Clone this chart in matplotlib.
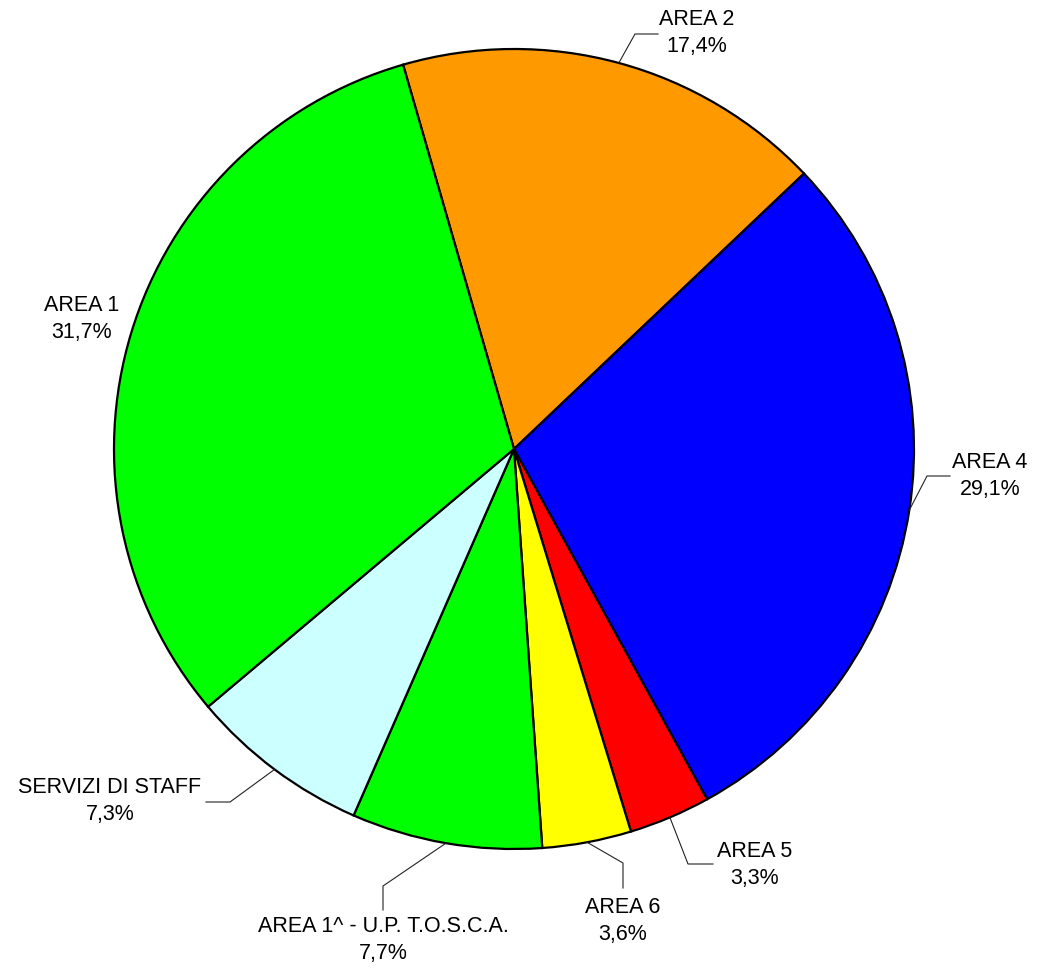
import matplotlib.pyplot as plt
import numpy as np

plt.rcParams['font.family'] = ['Liberation Sans', 'DejaVu Sans']

labels = ['AREA 2', 'AREA 4', 'AREA 5', 'AREA 6',
          'AREA 1^ - U.P. T.O.S.C.A.', 'SERVIZI DI STAFF', 'AREA 1']
values = [17.4, 29.1, 3.3, 3.6, 7.7, 7.3, 31.7]
pct_text = ['17,4%', '29,1%', '3,3%', '3,6%', '7,7%', '7,3%', '31,7%']
colors = ['#FF9900', '#0000FF', '#FF0000', '#FFFF00', '#00FF00', '#CCFFFF', '#00FF00']

# posizioni delle etichette (gomito, fine linea, testo) in unita' del raggio
label_pos = [
    ((0.3025, 1.0375), (0.36, 1.0375), (0.4575, 1.04)),
    ((1.0325, -0.0675), (1.09, -0.0675), (1.19, -0.0675)),
    ((0.435, -1.0375), (0.4975, -1.0375), (0.6025, -1.04)),
    ((0.2725, -1.035), (0.2725, -1.0975), (0.2725, -1.18)),
    ((-0.3275, -1.0925), (-0.3275, -1.1525), (-0.3275, -1.2275)),
    ((-0.71, -0.8825), (-0.77, -0.8825), (-1.01, -0.88)),
    (None, None, (-1.08, 0.325)),
]

fig = plt.figure(figsize=(10.37, 9.68), dpi=100)
ax = fig.add_axes([0, 0, 1, 1])

wedges, _ = ax.pie(values, colors=colors, startangle=106.1, counterclock=False,
                   radius=1, wedgeprops=dict(edgecolor='black', linewidth=1.6))

for w, lab, pct, (elbow, end, txt) in zip(wedges, labels, pct_text, label_pos):
    if elbow is not None:
        mid = np.deg2rad((w.theta1 + w.theta2) / 2)
        ax.plot([np.cos(mid), elbow[0], end[0]], [np.sin(mid), elbow[1], end[1]],
                color='#222222', lw=0.8)
    ax.text(txt[0], txt[1], lab + '\n' + pct, ha='center', va='center',
            fontsize=15.5, linespacing=1.4)

ax.set_xlim(-1.285, 1.3075)
ax.set_ylim(-1.2975, 1.1225)
ax.set_aspect('equal')
ax.axis('off')

plt.savefig('out.png')
